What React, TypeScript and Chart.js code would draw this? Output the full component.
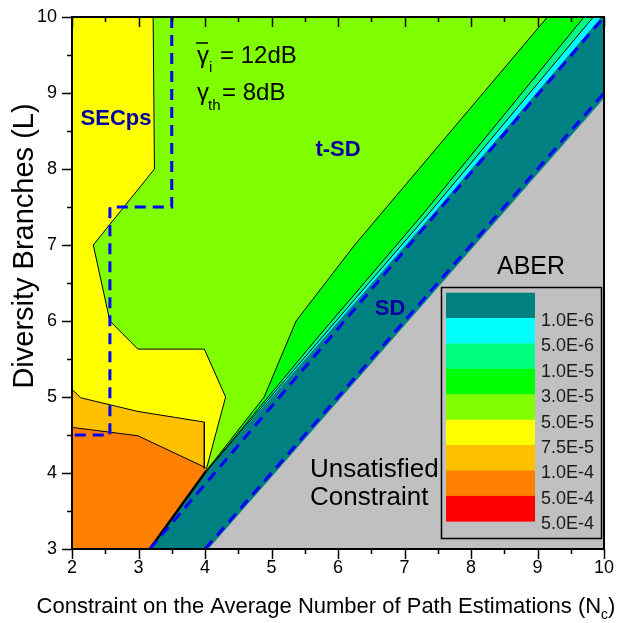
import React, { useEffect, useRef } from "react";
import { Chart, registerables } from "chart.js";
Chart.register(...registerables);

type P = [number, number];

const FONT = '"Liberation Sans", Arial, sans-serif';

const xTicks = [2, 3, 4, 5, 6, 7, 8, 9, 10];
const yTicks = [3, 4, 5, 6, 7, 8, 9, 10];

const legendLabels = ["1.0E-6", "5.0E-6", "1.0E-5", "3.0E-5", "5.0E-5", "7.5E-5", "1.0E-4", "5.0E-4", "5.0E-4"];
const legendColors = ["#008080", "#00FFFF", "#00FF80", "#00FF00", "#80FF00", "#FFFF00", "#FFC000", "#FF8000", "#FF0000"];
const grayColor = "#C0C0C0";

// filled regions (bottom to top)
const chartreuseRegion: P[] = [[2, 3], [10, 3], [10, 10], [2, 10]];
const yellowRegion: P[] = [[2, 10], [3.22, 10], [3.24, 8], [2.32, 7], [2.57, 6], [2.99, 5.63], [3.99, 5.63], [4.31, 5], [4.02, 4.05], [3.17, 3], [2, 3]];
const amberRegion: P[] = [[2, 5.1], [2.13, 4.99], [2.99, 4.81], [3.99, 4.67], [3.99, 4.06], [4.02, 4.05], [3.17, 3], [2, 3]];
const orangeRegion: P[] = [[2, 4.6], [2.99, 4.49], [4.01, 4.07], [4.02, 4.03], [3.17, 3], [2, 3]];
const greenRegion: P[] = [[4.0, 4.0], [4.89, 5], [5.37, 6], [6.25, 7], [9.15, 10], [10, 10], [10, 3], [4, 3]];
const springRegion: P[] = [[4, 4], [5.7, 5.79], [7.29, 7.42], [9.7, 10], [10, 10], [10, 3], [4, 3]];
const cyanRegion: P[] = [[4, 4], [7.37, 7.42], [9.84, 10], [10, 10], [10, 3], [4, 3]];
const tealRegion: P[] = [[3.17, 3], [4, 4], [7.44, 7.42], [9.96, 10], [10, 10], [10, 3]];
const grayRegion: P[] = [[4.05, 3], [10, 8.93], [10, 3]];

// contour lines
const lineYellowChartreuse: P[] = [[3.22, 10], [3.24, 8], [2.32, 7], [2.57, 6], [2.99, 5.63], [3.99, 5.63], [4.31, 5], [4.02, 4.05]];
const lineYellowAmber: P[] = [[2, 5.1], [2.13, 4.99], [2.99, 4.81], [3.99, 4.67], [3.99, 4.06]];
const lineAmberOrange: P[] = [[2, 4.6], [2.99, 4.49], [4.01, 4.07]];
const lineChartreuseGreen: P[] = [[4.02, 4.03], [4.89, 5], [5.37, 6], [6.25, 7], [9.15, 10]];
const lineGreenSpring: P[] = [[4, 4], [5.7, 5.79], [7.29, 7.42], [9.7, 10]];
const lineSpringCyan: P[] = [[4, 4], [7.37, 7.42], [9.84, 10]];
const lineOrangeTeal: P[] = [[3.17, 3], [4.02, 4.03]];

// dashed boundaries
const dashSECps: P[] = [[3.5, 10], [3.5, 7.5], [2.57, 7.5], [2.57, 4.5], [2, 4.5]];
const dashSDUpper: P[] = [[3.17, 3], [10, 10]];
const dashSDLower: P[] = [[4, 3], [10, 9]];

const toXY = (pts: P[]) => pts.map(([x, y]) => ({ x, y }));

const decoPlugin = {
  id: "deco",
  afterDatasetsDraw(chart: any) {
    const { ctx, chartArea: a, scales } = chart;
    const xs = scales.x;
    const ys = scales.y;
    ctx.save();

    // region labels
    ctx.fillStyle = "#0000A0";
    ctx.font = `bold 22px ${FONT}`;
    ctx.textAlign = "center";
    ctx.textBaseline = "alphabetic";
    ctx.fillText("SECps", 116, 125);
    ctx.fillText("t-SD", 338, 156);
    ctx.fillText("SD", 390, 315);

    // gamma texts
    ctx.fillStyle = "#000";
    ctx.textAlign = "left";
    ctx.font = `24px ${FONT}`;
    ctx.fillText("\u03B3", 197, 63);
    ctx.font = `15px ${FONT}`;
    ctx.fillText("i", 209, 72);
    ctx.font = `24px ${FONT}`;
    ctx.fillText("= 12dB", 220, 63);
    ctx.strokeStyle = "#000";
    ctx.lineWidth = 1.5;
    ctx.beginPath();
    ctx.moveTo(196, 43);
    ctx.lineTo(208, 43);
    ctx.stroke();

    ctx.font = `24px ${FONT}`;
    ctx.fillText("\u03B3", 197, 100);
    ctx.font = `15px ${FONT}`;
    ctx.fillText("th", 208, 110);
    ctx.font = `24px ${FONT}`;
    ctx.fillText("= 8dB", 222, 100);

    // ABER, unsatisfied
    ctx.font = `25px ${FONT}`;
    ctx.textAlign = "center";
    ctx.fillText("ABER", 531, 274);
    ctx.textAlign = "left";
    ctx.font = `26px ${FONT}`;
    ctx.fillText("Unsatisfied", 310, 477);
    ctx.fillText("Constraint", 310, 505);

    // legend box
    ctx.fillStyle = grayColor;
    ctx.fillRect(441, 287, 160, 252);
    ctx.strokeStyle = "#000";
    ctx.lineWidth = 1.5;
    ctx.strokeRect(441.5, 287.5, 160, 251);
    const sw0 = 292.7;
    const swh = 25.4;
    legendColors.forEach((c, i) => {
      ctx.fillStyle = c;
      ctx.fillRect(446, sw0 + i * swh, 89, swh + 0.3);
    });
    ctx.fillStyle = "#1a1a1a";
    ctx.font = `18px ${FONT}`;
    ctx.textAlign = "left";
    ctx.textBaseline = "middle";
    legendLabels.forEach((t, i) => {
      ctx.fillText(t, 541, sw0 + swh * (i + 1) + 3);
    });

    // frame
    ctx.strokeStyle = "#000";
    ctx.lineWidth = 2;
    ctx.strokeRect(a.left, a.top, a.right - a.left, a.bottom - a.top);

    // ticks
    ctx.lineWidth = 1.5;
    ctx.beginPath();
    for (let v = 2; v <= 10.001; v += 0.5) {
      const px = Math.round(xs.getPixelForValue(v)) + 0.5;
      const major = Math.abs(v - Math.round(v)) < 1e-6;
      const len = major ? 10 : 5;
      ctx.moveTo(px, a.bottom);
      ctx.lineTo(px, a.bottom + len);
      ctx.moveTo(px, a.top);
      ctx.lineTo(px, a.top + len);
    }
    for (let v = 3; v <= 10.001; v += 0.5) {
      const py = Math.round(ys.getPixelForValue(v)) + 0.5;
      const major = Math.abs(v - Math.round(v)) < 1e-6;
      const len = major ? 10 : 5;
      ctx.moveTo(a.left, py);
      ctx.lineTo(a.left - len, py);
    }
    ctx.stroke();

    // tick labels
    ctx.fillStyle = "#000";
    ctx.font = `18px ${FONT}`;
    ctx.textAlign = "center";
    ctx.textBaseline = "middle";
    xTicks.forEach((v) => ctx.fillText(String(v), xs.getPixelForValue(v), 568));
    ctx.textAlign = "right";
    yTicks.forEach((v) => ctx.fillText(String(v), 57, ys.getPixelForValue(v)));

    // axis titles
    ctx.textAlign = "left";
    ctx.textBaseline = "alphabetic";
    ctx.font = `22px ${FONT}`;
    const xt = "Constraint on the Average Number of Path Estimations (N";
    const w1 = ctx.measureText(xt).width;
    ctx.font = `14px ${FONT}`;
    const w2 = ctx.measureText("c").width;
    ctx.font = `22px ${FONT}`;
    const w3 = ctx.measureText(")").width;
    const total = w1 + w2 + w3;
    const sx = 326 - total / 2;
    ctx.fillText(xt, sx, 613);
    ctx.font = `14px ${FONT}`;
    ctx.fillText("c", sx + w1, 619);
    ctx.font = `22px ${FONT}`;
    ctx.fillText(")", sx + w1 + w2, 613);

    ctx.save();
    ctx.translate(33, 246);
    ctx.rotate(-Math.PI / 2);
    ctx.textAlign = "center";
    ctx.font = `29px ${FONT}`;
    ctx.fillText("Diversity Branches (L)", 0, 0);
    ctx.restore();

    ctx.restore();
  },
};

export default function App() {
  const ref = useRef<HTMLCanvasElement | null>(null);
  useEffect(() => {
    if (!ref.current) return;
    const regions: [P[], string][] = [
      [chartreuseRegion, legendColors[4]],
      [yellowRegion, legendColors[5]],
      [amberRegion, legendColors[6]],
      [orangeRegion, legendColors[7]],
      [greenRegion, legendColors[3]],
      [springRegion, legendColors[2]],
      [cyanRegion, legendColors[1]],
      [tealRegion, legendColors[0]],
      [grayRegion, grayColor],
    ];
    const lines: [P[], number][] = [
      [lineYellowChartreuse, 1],
      [lineYellowAmber, 1],
      [lineAmberOrange, 1],
      [lineChartreuseGreen, 1],
      [lineGreenSpring, 1],
      [lineSpringCyan, 1],
      [lineOrangeTeal, 2.5],
    ];
    const dashes: P[][] = [dashSECps, dashSDUpper, dashSDLower];

    const datasets: any[] = [];
    regions.forEach(([pts, c]) => {
      datasets.push({
        data: toXY(pts),
        fill: "shape",
        backgroundColor: c,
        borderColor: "rgba(0,0,0,0)",
        borderWidth: 0.01,
        pointRadius: 0,
        tension: 0,
      });
    });
    lines.forEach(([pts, w]) => {
      datasets.push({
        data: toXY(pts),
        fill: false,
        borderColor: "#000",
        borderWidth: w,
        pointRadius: 0,
        tension: 0,
      });
    });
    dashes.forEach((pts) => {
      datasets.push({
        data: toXY(pts),
        fill: false,
        borderColor: "#0000FF",
        borderWidth: 3,
        borderDash: [11, 7],
        pointRadius: 0,
        tension: 0,
      });
    });
    const N = datasets.length;
    datasets.forEach((d, i) => (d.order = N - i));

    const chart = new Chart(ref.current, {
      type: "line",
      data: { datasets },
      options: {
        animation: false,
        responsive: false,
        devicePixelRatio: 1,
        layout: { padding: { left: 72, right: 35, top: 17, bottom: 74 } },
        plugins: { legend: { display: false }, tooltip: { enabled: false } },
        events: [],
        scales: {
          x: { type: "linear", min: 2, max: 10, display: false },
          y: { type: "linear", min: 3, max: 10, display: false },
        },
      },
      plugins: [decoPlugin],
    } as any);
    return () => chart.destroy();
  }, []);
  return (
    <div style={{ position: "absolute", left: 0, top: 0, width: 639, height: 623, background: "#fff" }}>
      <canvas ref={ref} width={639} height={623} style={{ display: "block" }} />
    </div>
  );
}
